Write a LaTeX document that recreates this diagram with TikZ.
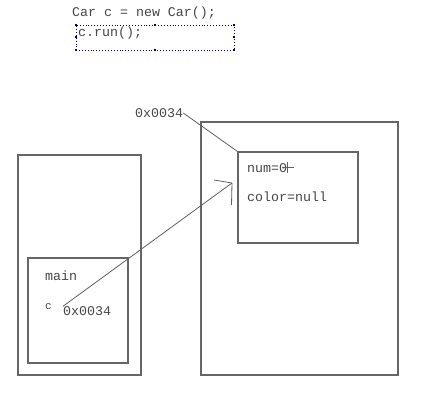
\documentclass[tikz,border=0pt]{standalone}
\usepackage{fontspec}
\newfontfamily\codefont{Liberation Mono}
\usepackage{tikz}
\usetikzlibrary{positioning}

\begin{document}
\begin{tikzpicture}[x=1pt,y=-1pt,
frame/.style={rectangle,draw=gray!80!black,line width=1.1pt,inner sep=0pt},
code/.style={anchor=west,inner sep=0pt,text=gray!55!black,font=\codefont\fontsize{13.3}{15}\selectfont},
wire/.style={draw=gray!75!black,line width=0.8pt}]
\useasboundingbox (0,0) rectangle (428,412);

% code lines
\node (line1) [code] at (72,13) {Car c = new Car();};
\node (line2) [code] at (78,33) {c.run();};
\node (sel) [rectangle,draw=blue!45!black,dotted,line width=0.9pt,minimum
width=158pt,minimum height=25pt] at (155,37.5) {};
\foreach \p in {north west,north,north east,south west,south,south east,west,east}
  \fill[blue!45!black] (sel.\p) +(-1,-1) rectangle +(1,1);

% stack and heap
\node (Stack) [frame,minimum width=123pt,minimum height=220pt] at (79.5,265) {};
\node (Main) [frame,minimum width=100pt,minimum height=105pt] at (78,310.5) {};
\node (Heap) [frame,minimum width=197pt,minimum height=253pt] at (299.5,248.5) {};
\node (Obj) [frame,minimum width=120pt,minimum height=91pt] at (298,197.5) {};

\node (mainlbl) [code] at (45,276) {main};
\node (cvar) [code,font=\codefont\fontsize{11}{13}\selectfont] at (45,307) {c};
\node (cval) [code] at (63,311) {0x0034};
\node (num) [code] at (247,168) {num=0};
\node (col) [code] at (247,197) {color=null};
\node (addr) [code] at (135,113) {0x0034};

% strike over the 0
\draw[wire] (283,167) -- (294,167);
\draw[wire] (287.5,162) -- (287.5,173);

% reference arrow
\coordinate (tip) at (232,183);
\draw[wire] (cval.north west) -- (tip);
\draw[wire] (tip) -- ++(-18,-3);
\draw[wire] (tip) -- ++(-0.5,22);

% address to object
\draw[wire] (addr.east) -- (Obj.north west);
\end{tikzpicture}
\end{document}
